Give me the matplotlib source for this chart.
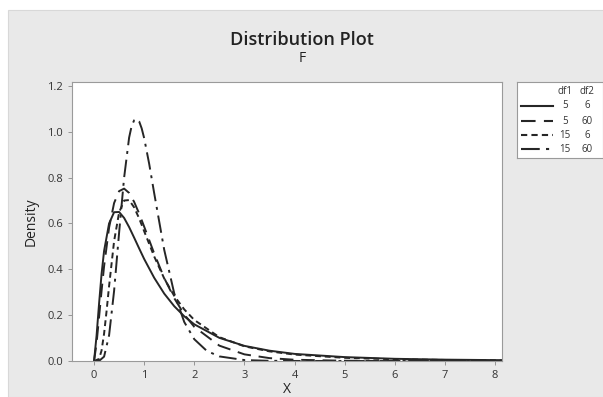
# F distribution plot, Minitab style
import matplotlib
matplotlib.use('Agg')
import matplotlib.pyplot as plt
from matplotlib.patches import Rectangle

plt.rcParams['font.family'] = ['Open Sans', 'DejaVu Sans']

#---------------------------------- data ----------------------------------
df_pairs = [(5, 6), (5, 60), (15, 6), (15, 60)]

x_56 = [0, 0.05, 0.1, 0.15, 0.2, 0.3, 0.4, 0.5, 0.6, 0.7, 0.8, 0.9, 1.0, 1.2, 1.4, 1.6, 1.8, 2.0,
        2.5, 3.0, 3.5, 4.0, 5.0, 6.0, 7.0, 8.0, 8.2]
y_56 = [0, 0.11, 0.25, 0.38, 0.48, 0.60, 0.649, 0.65, 0.624, 0.584, 0.538, 0.491, 0.445, 0.363,
        0.294, 0.239, 0.195, 0.160, 0.101, 0.066, 0.045, 0.031, 0.017, 0.0096, 0.0059, 0.0039, 0.0036]

x_560 = [0, 0.05, 0.1, 0.15, 0.2, 0.3, 0.4, 0.5, 0.6, 0.7, 0.8, 0.9, 1.0, 1.2, 1.4, 1.6, 1.8, 2.0,
         2.5, 3.0, 3.5, 4.0, 5.0, 6.0, 7.0, 8.2]
y_560 = [0, 0.077, 0.191, 0.306, 0.413, 0.582, 0.689, 0.741, 0.752, 0.733, 0.694, 0.643, 0.586,
         0.469, 0.362, 0.274, 0.203, 0.149, 0.067, 0.029, 0.0126, 0.0055, 0.0011, 0.0002, 0.0, 0.0]

x_156 = [0, 0.1, 0.15, 0.2, 0.25, 0.3, 0.4, 0.5, 0.6, 0.7, 0.8, 0.9, 1.0, 1.2, 1.4, 1.6, 1.8, 2.0,
         2.5, 3.0, 3.5, 4.0, 5.0, 6.0, 7.0, 8.0, 8.2]
y_156 = [0, 0.009, 0.046, 0.119, 0.218, 0.327, 0.523, 0.648, 0.700, 0.702, 0.670, 0.622, 0.566,
         0.456, 0.360, 0.284, 0.225, 0.179, 0.104, 0.064, 0.042, 0.028, 0.0138, 0.0076, 0.0045,
         0.0028, 0.0026]

x_1560 = [0, 0.1, 0.2, 0.3, 0.4, 0.5, 0.6, 0.7, 0.75, 0.8, 0.85, 0.9, 0.95, 1.0, 1.1, 1.2, 1.4,
          1.6, 1.8, 2.0, 2.25, 2.5, 3.0, 3.5, 4.0, 5.0, 8.2]
y_1560 = [0, 0.0003, 0.019, 0.112, 0.306, 0.560, 0.800, 0.975, 1.025, 1.050, 1.056, 1.045, 1.015,
          0.972, 0.860, 0.732, 0.485, 0.295, 0.170, 0.095, 0.044, 0.020, 0.0041, 0.0008, 0.0002,
          0.0, 0.0]

series = [(x_56, y_56), (x_560, y_560), (x_156, y_156), (x_1560, y_1560)]

x_ticks = [0, 1, 2, 3, 4, 5, 6, 7, 8]
y_ticks = [0.0, 0.2, 0.4, 0.6, 0.8, 1.0, 1.2]

#---------------------------------- styles ----------------------------------
ink = '#262626'
styles = [
    dict(linestyle='-'),
    dict(linestyle=(0, (7, 4))),
    dict(linestyle=(0, (3, 2))),
    dict(linestyle=(0, (9, 3, 1.5, 3))),
]

#---------------------------------- figure ----------------------------------
fig = plt.figure(figsize=(6.03, 3.97), dpi=100)
fig.patch.set_facecolor('white')
# grey panel behind everything
fig.patches.append(Rectangle((8 / 603, 0), 1, 1 - 10 / 397, transform=fig.transFigure,
                             facecolor='#e9e9e9', edgecolor='#d8d8d8', linewidth=0.8, zorder=-10))

ax = fig.add_axes([72 / 603, 1 - 361 / 397, 430 / 603, 279 / 397])
ax.set_facecolor('white')

for (xs, ys), st in zip(series, styles):
    ax.plot(xs, ys, color=ink, linewidth=1.4, **st)

ax.set_xlim(-0.44, 8.14)
ax.set_ylim(0, 1.217)
ax.set_xticks(x_ticks)
ax.set_yticks(y_ticks)
ax.set_yticklabels([f'{v:.1f}' for v in y_ticks])
ax.tick_params(labelsize=8, colors='#333333', length=3, width=0.6, color='#888888')
for s in ax.spines.values():
    s.set_color('#9a9a9a')
    s.set_linewidth(0.8)

ax.set_xlabel('X', fontsize=10, color='#222222', labelpad=1)
ax.set_ylabel('Density', fontsize=10, color='#222222', labelpad=6)

fig.text(302 / 603, 1 - 40 / 397, 'Distribution Plot', ha='center', va='center',
         fontsize=13, fontweight='semibold', color='#222222')
fig.text(302 / 603, 1 - 58 / 397, 'F', ha='center', va='center', fontsize=10, color='#222222')

#---------------------------------- legend box ----------------------------------
lg = fig.add_axes([517 / 603, 1 - 158 / 397, 86 / 603, 76 / 397])
lg.set_xlim(0, 86)
lg.set_ylim(76, 0)
lg.set_xticks([])
lg.set_yticks([])
lg.set_facecolor('white')
for s in lg.spines.values():
    s.set_color('#9a9a9a')
    s.set_linewidth(0.8)

lg.text(48, 10, 'df1', fontsize=7, color='#333333', ha='center', va='center')
lg.text(70, 10, 'df2', fontsize=7, color='#333333', ha='center', va='center')
row_y = [24, 39, 53, 67]
for ry, (d1, d2), st in zip(row_y, df_pairs, styles):
    lg.plot([4, 36], [ry, ry], color=ink, linewidth=1.5, **st)
    lg.text(48, ry, str(d1), fontsize=7, color='#333333', ha='center', va='center')
    lg.text(70, ry, str(d2), fontsize=7, color='#333333', ha='center', va='center')

fig.savefig('out.png', dpi=100)
